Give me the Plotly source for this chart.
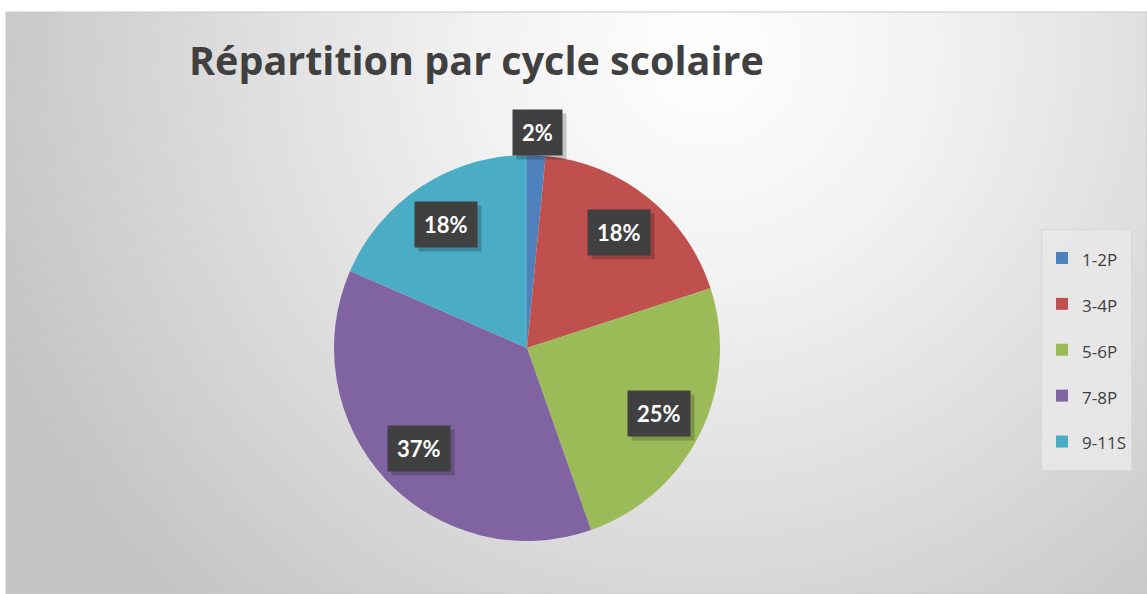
import math
import plotly.graph_objects as go

labels = ["1-2P", "3-4P", "5-6P", "7-8P", "9-11S"]
values = [1, 12, 16, 24, 12]
colors = ["#4F81BD", "#C0504D", "#9BBB59", "#8064A2", "#4BACC6"]
title_text = "Répartition par cycle scolaire"

W, H = 1147, 594
# pie geometry in pixels
cx_px, cy_px, R_px = 527, 348, 193
dom_x = [(cx_px - R_px) / W, (cx_px + R_px) / W]
dom_y = [(H - cy_px - R_px) / H, (H - cy_px + R_px) / H]

bg_svg = (
    "data:image/svg+xml;utf8,"
    "<svg xmlns='http://www.w3.org/2000/svg' width='1141' height='582' preserveAspectRatio='none'>"
    "<defs><radialGradient id='g' gradientUnits='userSpaceOnUse' cx='700' cy='40' r='760'>"
    "<stop offset='0' stop-color='%23ffffff'/><stop offset='0.3' stop-color='%23f2f2f2'/>"
    "<stop offset='1' stop-color='%23c4c4c4'/></radialGradient></defs>"
    "<rect width='1141' height='582' fill='url(%23g)'/></svg>"
)

fig = go.Figure()
fig.add_trace(go.Pie(
    labels=['<span style="font-size:17px;baseline-shift:5px">%s</span>' % l for l in labels],
    values=values,
    marker=dict(colors=colors, line=dict(width=0)),
    sort=False,
    direction="clockwise",
    rotation=0,
    textinfo="none",
    domain=dict(x=dom_x, y=dom_y),
    hoverinfo="label+percent",
))

# data labels computed from the values
total = sum(values)
cum = 0
annotations = []
for v in values:
    frac = v / total
    mid = (cum + frac / 2) * 2 * math.pi
    cum += frac
    r = R_px * 0.765 if frac > 0.05 else R_px + 23
    x_px = cx_px + r * math.sin(mid)
    y_px = cy_px - r * math.cos(mid)
    txt = "%d%%" % round(frac * 100)
    # shadow
    annotations.append(dict(
        x=(x_px + 4) / W, y=1 - (y_px + 4) / H, xref="paper", yref="paper",
        xanchor="center", yanchor="middle",
        text="<b>%s</b>" % txt, showarrow=False, font=dict(family="Lato", size=22, color="rgba(0,0,0,0)"),
        bgcolor="rgba(0,0,0,0.2)", borderpad=9,
    ))
    annotations.append(dict(
        x=x_px / W, y=1 - y_px / H, xref="paper", yref="paper",
        xanchor="center", yanchor="middle",
        text="<b>%s</b>" % txt, showarrow=False,
        font=dict(family="Lato", size=22, color="white"),
        bgcolor="#404040", borderpad=9,
    ))

annotations.append(dict(
    x=476 / W, y=1 - 60 / H, xref="paper", yref="paper",
    xanchor="center", yanchor="middle",
    text="<b>%s</b>" % title_text, showarrow=False,
    font=dict(family="Open Sans", size=39.5, color="#404040"),
))

fig.update_layout(
    width=W, height=H,
    margin=dict(l=0, r=0, t=0, b=0),
    paper_bgcolor="white",
    showlegend=True,
    legend=dict(
        x=1041 / W, y=1 - 229 / H, xanchor="left", yanchor="top",
        font=dict(family="Open Sans", size=33, color="#404040"),
        bgcolor="rgba(232,232,232,0.9)", bordercolor="#d8d8d8", borderwidth=1,
        itemclick=False,
    ),
    images=[dict(
        source=bg_svg, xref="paper", yref="paper",
        x=6 / W, y=1 - 12 / H, sizex=(W - 6) / W, sizey=(H - 12) / H,
        xanchor="left", yanchor="top", sizing="stretch", layer="below",
    )],
    shapes=[dict(
        type="rect", xref="paper", yref="paper",
        x0=6 / W, x1=1, y0=0, y1=1 - 12 / H,
        line=dict(color="#c8c8c8", width=1), layer="below",
    )],
    annotations=annotations,
)

fig.write_html("out.html", config={"displayModeBar": False},
               post_script="document.body.style.margin='0';document.body.style.overflow='hidden';")
